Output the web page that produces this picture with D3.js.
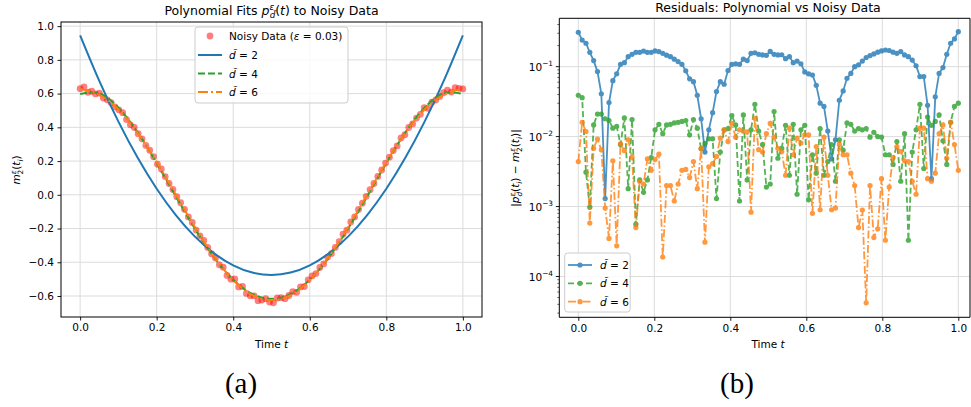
<!DOCTYPE html>
<html><head><meta charset="utf-8">
<script src="https://cdn.jsdelivr.net/npm/d3@7"></script>
<style>
body{margin:0;background:#fff}
svg{display:block}
text{font-family:"DejaVu Sans",sans-serif;fill:#000}
text.panel{font-family:"Liberation Serif","DejaVu Serif",serif}
</style>
</head><body>
<svg id="chart" width="971" height="407"></svg>
<script>
// ---------------- DATA ----------------
const nPoints = 100; // t_i = linspace(0,1,100)
const timeGrid = d3.range(nPoints).map(i => i / (nPoints - 1));

const noisyData = [0.629,0.640,0.608,0.614,0.598,0.603,0.574,0.563,0.547,0.521,
0.504,0.487,0.446,0.415,0.399,0.362,0.332,0.293,0.264,0.226,
0.181,0.153,0.108,0.067,0.032,-0.011,-0.047,-0.086,-0.131,-0.164,
-0.209,-0.243,-0.271,-0.312,-0.350,-0.374,-0.415,-0.429,-0.478,-0.500,
-0.499,-0.546,-0.543,-0.585,-0.599,-0.599,-0.628,-0.624,-0.616,-0.636,
-0.640,-0.612,-0.610,-0.616,-0.597,-0.574,-0.578,-0.546,-0.544,-0.504,
-0.481,-0.467,-0.431,-0.410,-0.369,-0.349,-0.312,-0.278,-0.234,-0.210,
-0.161,-0.131,-0.087,-0.050,-0.009,0.030,0.067,0.109,0.147,0.188,
0.223,0.262,0.290,0.337,0.356,0.399,0.420,0.455,0.477,0.517,
0.513,0.549,0.562,0.583,0.605,0.620,0.609,0.636,0.631,0.628];

const fitT = [0,0.05,0.1,0.15,0.2,0.25,0.3,0.35,0.4,0.45,0.5,0.55,0.6,0.65,0.7,0.75,0.8,0.85,0.9,0.95,1];
const fitD2 = [0.945,0.675,0.434,0.221,0.036,-0.120,-0.248,-0.347,-0.418,-0.461,-0.475,-0.461,-0.418,-0.347,-0.248,-0.120,0.036,0.221,0.434,0.675,0.945];
const fitD4 = [0.598,0.601,0.516,0.371,0.188,-0.009,-0.201,-0.371,-0.503,-0.588,-0.617,-0.588,-0.503,-0.371,-0.201,-0.009,0.188,0.371,0.516,0.601,0.598];
const fitD6 = [0.628,0.593,0.506,0.368,0.193,0.000,-0.193,-0.367,-0.505,-0.595,-0.624,-0.595,-0.505,-0.367,-0.193,0.000,0.193,0.368,0.506,0.593,0.628];

const residD2 = [0.31,0.24,0.216,0.16,0.122,0.085,0.041,0.0013,0.0306,0.063,
0.079,0.108,0.114,0.139,0.15,0.16,0.16,0.167,0.16,0.16,
0.168,0.164,0.155,0.146,0.139,0.128,0.118,0.108,0.087,0.067,
0.061,0.039,0.018,0.006,0.0125,0.022,0.044,0.061,0.056,0.088,
0.108,0.11,0.108,0.128,0.122,0.155,0.158,0.15,0.147,0.145,
0.165,0.15,0.147,0.148,0.13,0.139,0.114,0.12,0.11,0.084,
0.079,0.076,0.054,0.03,0.027,0.012,0.0048,0.009,0.033,0.045,
0.068,0.08,0.1,0.106,0.12,0.135,0.144,0.152,0.161,0.168,
0.173,0.17,0.161,0.155,0.164,0.147,0.139,0.124,0.103,0.072,
0.072,0.028,0.0025,0.037,0.08,0.097,0.15,0.216,0.249,0.316];

const residD4 = [0.039,0.036,0.0031,0.00098,0.0147,0.021,0.021,0.018,0.017,0.0132,
0.014,0.0077,0.0185,0.0018,0.0175,0.00056,0.0024,0.0016,0.0024,0.005,
0.0125,0.015,0.011,0.0147,0.015,0.0157,0.016,0.0165,0.017,0.0106,
0.0175,0.0132,0.0067,0.008,0.0093,0.0093,0.0013,0.006,0.0125,0.013,
0.02,0.0147,0.0012,0.0204,0.0024,0.0125,0.029,0.012,0.0077,0.0019,
0.0021,0.0228,0.0049,0.0068,0.0145,0.0028,0.015,0.0015,0.0125,0.0145,
0.00125,0.0055,0.003,0.013,0.0028,0.0044,0.0077,0.0023,0.009,0.0064,
0.0157,0.015,0.012,0.013,0.0125,0.013,0.0098,0.0115,0.010,0.0098,
0.0055,0.0055,0.004,0.0085,0.0023,0.011,0.00033,0.006,0.0125,0.029,
0.0035,0.019,0.0145,0.0165,0.0204,0.0087,0.004,0.016,0.027,0.03];

const residD6 = [0.0044,0.016,0.0118,0.00058,0.0068,0.0092,0.0065,0.00095,0.00035,0.0045,
0.000275,0.0079,0.0063,0.009,0.0051,0.0005,0.0023,0.0021,0.0048,0.0033,
0.0047,0.0056,0.00019,0.002,0.002,0.0012,0.0021,0.0033,0.0034,0.0026,
0.0044,0.0018,0.0068,0.00031,0.0037,0.0041,0.0052,0.0095,0.0125,0.0085,
0.0155,0.0098,0.0125,0.012,0.0117,0.00083,0.0183,0.0065,0.006,0.011,
0.0155,0.0098,0.0068,0.0061,0.0028,0.0132,0.0055,0.0095,0.0081,0.0106,
0.0106,0.0008,0.0072,0.0009,0.0098,0.0028,0.0009,0.00095,0.0078,0.0055,
0.0055,0.003,0.002,0.0005,0.00089,0.000042,0.002,0.00036,0.00048,0.0025,
0.00033,0.0019,0.005,0.0072,0.0061,0.0045,0.0044,0.0023,0.0015,0.0132,
0.0132,0.0025,0.0023,0.003,0.011,0.0147,0.0049,0.016,0.0077,0.0033];

const xTicks = [0, 0.2, 0.4, 0.6, 0.8, 1.0];
const yTicksLeft = [-0.6, -0.4, -0.2, 0.0, 0.2, 0.4, 0.6, 0.8, 1.0];
const yTicksRightExp = [-4, -3, -2, -1];
const degrees = [2, 4, 6];

// ---------------- STYLE ----------------
const C = {blue:"#1f77b4", green:"#2ca02c", orange:"#ff7f0e", grid:"#dcdcdc"};
const FS = 10.5;
const svg = d3.select("#chart");

function rich(sel, parts, fs){
  let cur = 0;
  parts.forEach(p => {
    const o = p[1] || {};
    const shift = o.sh === "sup" ? -0.42*fs : o.sh === "sub" ? 0.25*fs : 0;
    const ts = sel.append("tspan").text(p[0]).attr("dy", (shift - cur).toFixed(2));
    cur = shift;
    if (o.sh) ts.attr("font-size", (fs*0.7).toFixed(2));
    if (o.i) ts.attr("font-style", "italic");
    if (o.dx) ts.attr("dx", o.dx);
  });
}

// ================= LEFT PANEL =================
const L = {x0:61, x1:482, y0:22, y1:317};
const xL = d3.scaleLinear().domain([-0.05, 1.05]).range([L.x0, L.x1]);
const yL = d3.scaleLinear().domain([-0.7245, 1.0245]).range([L.y1, L.y0]);
const gL = svg.append("g");

gL.selectAll(".gx").data(xTicks).join("line")
  .attr("x1", d => xL(d)).attr("x2", d => xL(d)).attr("y1", L.y0).attr("y2", L.y1)
  .attr("stroke", C.grid).attr("stroke-width", 1);
gL.selectAll(".gy").data(yTicksLeft).join("line")
  .attr("y1", d => yL(d)).attr("y2", d => yL(d)).attr("x1", L.x0).attr("x2", L.x1)
  .attr("stroke", C.grid).attr("stroke-width", 1);

gL.append("g").selectAll("circle").data(noisyData).join("circle")
  .attr("cx", (d, i) => xL(timeGrid[i])).attr("cy", d => yL(d)).attr("r", 3.4)
  .attr("fill", "#ff0000").attr("fill-opacity", 0.5);

const lineL = d3.line().x((d, i) => xL(fitT[i])).y(d => yL(d)).curve(d3.curveNatural);
gL.append("path").attr("d", lineL(fitD2)).attr("fill", "none").attr("stroke", C.blue).attr("stroke-width", 2);
gL.append("path").attr("d", lineL(fitD4)).attr("fill", "none").attr("stroke", C.green).attr("stroke-width", 2).attr("stroke-dasharray", "7,3");
gL.append("path").attr("d", lineL(fitD6)).attr("fill", "none").attr("stroke", C.orange).attr("stroke-width", 2).attr("stroke-dasharray", "10,3,2,3");

const axL = gL.append("g").attr("transform", `translate(0,${L.y1})`)
  .call(d3.axisBottom(xL).tickValues(xTicks).tickFormat(d3.format(".1f")).tickSize(3.5).tickPadding(3.5));
const ayL = gL.append("g").attr("transform", `translate(${L.x0},0)`)
  .call(d3.axisLeft(yL).tickValues(yTicksLeft).tickFormat(d => d3.format(".1f")(d).replace("-", "\u2212")).tickSize(3.5).tickPadding(3.5));
[axL, ayL].forEach(a => { a.select(".domain").remove(); a.selectAll("text").attr("font-size", FS); a.selectAll("line").attr("stroke", "#000").attr("stroke-width", 0.9); });
gL.append("rect").attr("x", L.x0).attr("y", L.y0).attr("width", L.x1 - L.x0).attr("height", L.y1 - L.y0)
  .attr("fill", "none").attr("stroke", "#000").attr("stroke-width", 1);

const tL = gL.append("text").attr("x", 271.5).attr("y", 15).attr("text-anchor", "middle").attr("font-size", 12.5);
rich(tL, [["Polynomial Fits "], ["p", {i:true}], ["ε", {sh:"sup", i:true}], ["d\u0303", {sh:"sub", i:true, dx:-4.5}], ["(", {}], ["t", {i:true}], [") to Noisy Data"]], 12.5);

const xlabL = gL.append("text").attr("x", 271.5).attr("y", 348).attr("text-anchor", "middle").attr("font-size", FS);
rich(xlabL, [["Time "], ["t", {i:true}]], FS);
const ylabL = gL.append("text").attr("transform", "translate(20,170) rotate(-90)").attr("text-anchor", "middle").attr("font-size", FS);
rich(ylabL, [["m", {i:true}], ["ε", {sh:"sup", i:true}], ["2", {sh:"sub", dx:-4.1}], ["("], ["t", {i:true}], ["i", {sh:"sub", i:true}], [")"]], FS);

const lgL = gL.append("g");
lgL.append("rect").attr("x", 195).attr("y", 27).attr("width", 153).attr("height", 76).attr("rx", 3)
  .attr("fill", "#fff").attr("fill-opacity", 0.8).attr("stroke", "#ccc").attr("stroke-width", 1);
const rowsL = [36, 55, 73.5, 92];
lgL.append("circle").attr("cx", 210).attr("cy", rowsL[0]).attr("r", 3.4).attr("fill", "#ff0000").attr("fill-opacity", 0.5);
const lineStyles = [[C.blue, null], [C.green, "7,3"], [C.orange, "10,3,2,3"]];
lineStyles.forEach((s, k) => {
  const ln = lgL.append("line").attr("x1", 198).attr("x2", 222).attr("y1", rowsL[k+1]).attr("y2", rowsL[k+1])
    .attr("stroke", s[0]).attr("stroke-width", 2);
  if (s[1]) ln.attr("stroke-dasharray", s[1]);
});
const lt0 = lgL.append("text").attr("x", 229).attr("y", rowsL[0] + 4).attr("font-size", FS);
rich(lt0, [["Noisy Data ("], ["ε", {i:true}], [" = 0.03)"]], FS);
degrees.forEach((d, k) => {
  const t = lgL.append("text").attr("x", 229).attr("y", rowsL[k+1] + 4).attr("font-size", FS);
  rich(t, [["d\u0303", {i:true}], [" = " + d]], FS);
});

// ================= RIGHT PANEL =================
const R = {x0:559.3, y0:18.3, y1:317.3};
const xR = d3.scaleLinear().domain([-0.05, 1.05]).range([R.x0, R.x0 + 1.1*380]);
const R_x1 = 970;
const yR = d3.scaleLog().domain([Math.pow(10, -4.583), Math.pow(10, -0.309)]).range([R.y1, R.y0]);
const gR = svg.append("g");

gR.selectAll(".gx").data(xTicks).join("line")
  .attr("x1", d => xR(d)).attr("x2", d => xR(d)).attr("y1", R.y0).attr("y2", R.y1)
  .attr("stroke", C.grid).attr("stroke-width", 1);
gR.selectAll(".gy").data(yTicksRightExp).join("line")
  .attr("y1", d => yR(Math.pow(10, d))).attr("y2", d => yR(Math.pow(10, d))).attr("x1", R.x0).attr("x2", R_x1)
  .attr("stroke", C.grid).attr("stroke-width", 1);

const series = [
  {vals: residD2, color: C.blue, dash: null},
  {vals: residD4, color: C.green, dash: "6,3"},
  {vals: residD6, color: C.orange, dash: "8,2.5,1.5,2.5"}
];
const lineR = d3.line().x((d, i) => xR(timeGrid[i])).y(d => yR(d));
svg.append("clipPath").attr("id", "clipR").append("rect")
  .attr("x", R.x0).attr("y", R.y0).attr("width", R_x1 - R.x0).attr("height", R.y1 - R.y0);
const plotR = gR.append("g").attr("clip-path", "url(#clipR)");
series.forEach(s => {
  const g = plotR.append("g").attr("opacity", 0.8);
  const p = g.append("path").attr("d", lineR(s.vals)).attr("fill", "none").attr("stroke", s.color).attr("stroke-width", 1.8);
  if (s.dash) p.attr("stroke-dasharray", s.dash);
  g.selectAll("circle").data(s.vals).join("circle")
    .attr("cx", (d, i) => xR(timeGrid[i])).attr("cy", d => yR(d)).attr("r", 2.6).attr("fill", s.color);
});

const axR = gR.append("g").attr("transform", `translate(0,${R.y1})`)
  .call(d3.axisBottom(xR).tickValues(xTicks).tickFormat(d3.format(".1f")).tickSize(3.5).tickPadding(3.5));
axR.select(".domain").remove();
axR.selectAll("text").attr("font-size", FS);
axR.selectAll("line").attr("stroke", "#000").attr("stroke-width", 0.9);

const minorVals = [];
[-5, -4, -3, -2, -1].forEach(e => { for (let m = 2; m <= 9; m++) { const v = m * Math.pow(10, e); if (yR(v) >= R.y0 && yR(v) <= R.y1) minorVals.push(v); } });
gR.selectAll(".minor").data(minorVals).join("line")
  .attr("x1", R.x0 - 2).attr("x2", R.x0).attr("y1", d => yR(d)).attr("y2", d => yR(d))
  .attr("stroke", "#000").attr("stroke-width", 0.6);
gR.selectAll(".major").data(yTicksRightExp).join("line")
  .attr("x1", R.x0 - 3.5).attr("x2", R.x0).attr("y1", d => yR(Math.pow(10, d))).attr("y2", d => yR(Math.pow(10, d)))
  .attr("stroke", "#000").attr("stroke-width", 0.9);
yTicksRightExp.forEach(e => {
  const t = gR.append("text").attr("x", 553).attr("y", yR(Math.pow(10, e)) + 4).attr("text-anchor", "end").attr("font-size", FS);
  rich(t, [["10"], ["\u2212" + Math.abs(e), {sh:"sup"}]], FS);
});
gR.append("path").attr("d", `M${R_x1},${R.y0}H${R.x0}V${R.y1}H${R_x1}V${R.y0}`)
  .attr("fill", "none").attr("stroke", "#000").attr("stroke-width", 1);

gR.append("text").attr("x", 768).attr("y", 12).attr("text-anchor", "middle").attr("font-size", 12.5).text("Residuals: Polynomial vs Noisy Data");
const xlabR = gR.append("text").attr("x", 768).attr("y", 348).attr("text-anchor", "middle").attr("font-size", FS);
rich(xlabR, [["Time "], ["t", {i:true}]], FS);
const ylabR = gR.append("text").attr("transform", "translate(519,168) rotate(-90)").attr("text-anchor", "middle").attr("font-size", FS);
rich(ylabR, [["|"], ["p", {i:true}], ["ε", {sh:"sup", i:true}], ["d\u0303", {sh:"sub", i:true, dx:-4.1}], ["("], ["t", {i:true}], ["i", {sh:"sub", i:true}], [") \u2212 "], ["m", {i:true}], ["ε", {sh:"sup", i:true}], ["2", {sh:"sub", dx:-4.1}], ["("], ["t", {i:true}], ["i", {sh:"sub", i:true}], [")|"]], FS);

const lgR = gR.append("g");
lgR.append("rect").attr("x", 564.7).attr("y", 253).attr("width", 65.5).attr("height", 59).attr("rx", 3)
  .attr("fill", "#fff").attr("fill-opacity", 0.8).attr("stroke", "#ccc").attr("stroke-width", 1);
const rowsR = [265, 283.3, 301.7];
series.forEach((s, k) => {
  const g = lgR.append("g").attr("opacity", 0.8);
  const ln = g.append("line").attr("x1", 568).attr("x2", 592).attr("y1", rowsR[k]).attr("y2", rowsR[k]).attr("stroke", s.color).attr("stroke-width", 1.8);
  if (s.dash) ln.attr("stroke-dasharray", s.dash);
  g.append("circle").attr("cx", 580).attr("cy", rowsR[k]).attr("r", 2.6).attr("fill", s.color);
  const t = lgR.append("text").attr("x", 600).attr("y", rowsR[k] + 4).attr("font-size", FS);
  rich(t, [["d\u0303", {i:true}], [" = " + degrees[k]]], FS);
});

svg.append("text").attr("class", "panel").attr("x", 241).attr("y", 393).attr("text-anchor", "middle").attr("font-size", 29).text("(a)");
svg.append("text").attr("class", "panel").attr("x", 737).attr("y", 393).attr("text-anchor", "middle").attr("font-size", 29).text("(b)");
</script>
</body></html>
